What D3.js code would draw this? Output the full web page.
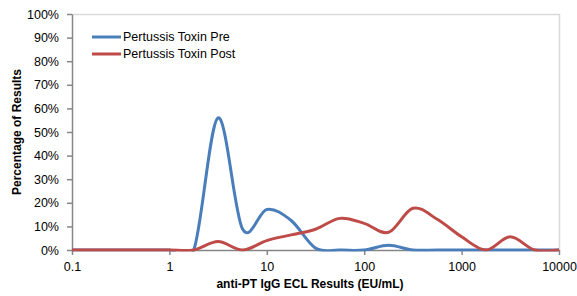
<!DOCTYPE html>
<html>
<head>
<meta charset="utf-8">
<script src="https://cdn.jsdelivr.net/npm/d3@7"></script>
<style>
  body { margin: 0; background: #fff; }
  svg text { font-family: "Liberation Sans", Arial, sans-serif; fill: #000; }
</style>
</head>
<body>
<div id="chart"></div>
<script>
// quarter-decade bins, 0.1 .. 10000
var binValues = [0.1, 0.178, 0.316, 0.562, 1, 1.78, 3.16, 5.62, 10, 17.8, 31.6, 56.2,
                 100, 178, 316, 562, 1000, 1780, 3160, 5620, 10000];
var preValues = [0, 0, 0, 0, 0, 0, 56, 9, 17.2, 12.5, 0.8, 0, 0, 2, 0, 0, 0, 0, 0, 0, 0];
var postValues = [0, 0, 0, 0, 0, 0, 3.6, 0, 4, 6.4, 8.8, 13.4, 11.3, 7.5, 17.7, 13, 5.6, 0, 5.6, 0, 0];
var seriesNames = ["Pertussis Toxin Pre", "Pertussis Toxin Post"];
var seriesColors = ["#4a7ebb", "#be4b48"];
var xTicks = [0.1, 1, 10, 100, 1000, 10000];
var yTicks = [0, 10, 20, 30, 40, 50, 60, 70, 80, 90, 100];

var width = 577,
    height = 296,
    margin = {top: 14, right: 18, bottom: 46, left: 72};
var innerW = width - margin.left - margin.right,
    innerH = height - margin.top - margin.bottom;

var svg = d3.select("#chart")
    .append("svg")
    .attr("width", width)
    .attr("height", height);

var g = svg.append("g")
    .attr("transform", "translate(" + margin.left + "," + margin.top + ")");

var x = d3.scaleLog().domain([0.1, 10000]).range([0, innerW]);
var y = d3.scaleLinear().domain([0, 100]).range([innerH, 0]);

// plot area frame (top and right light)
g.append("path")
    .attr("d", "M0,0.5H" + (innerW + 0.5) + "V" + innerH)
    .attr("fill", "none")
    .attr("stroke", "#d9d9d9")
    .attr("stroke-width", 1.5);

// y axis
var yAxis = g.append("g")
    .call(d3.axisLeft(y).tickValues(yTicks).tickSize(5).tickSizeOuter(0)
        .tickFormat(function(d) { return d + "%"; }));
yAxis.select(".domain").attr("stroke", "#868686").attr("stroke-width", 1.5);
yAxis.selectAll(".tick line").attr("stroke", "#868686").attr("stroke-width", 1.5);
yAxis.selectAll(".tick text")
    .attr("x", -13)
    .style("font-size", "12.5px")
    .attr("fill", "#000");

// x axis
var xAxis = g.append("g")
    .attr("transform", "translate(0," + innerH + ")")
    .call(d3.axisBottom(x).tickValues(xTicks).tickSize(5).tickSizeOuter(0)
        .tickFormat(function(d) { return String(d); }));
xAxis.select(".domain").attr("stroke", "#868686").attr("stroke-width", 1.5);
xAxis.selectAll(".tick line").attr("stroke", "#868686").attr("stroke-width", 1.5);
xAxis.selectAll(".tick text")
    .attr("y", 12)
    .style("font-size", "12.5px")
    .attr("fill", "#000");

// axis titles
svg.append("text")
    .attr("transform", "translate(21," + (margin.top + innerH / 2) + ") rotate(-90)")
    .attr("text-anchor", "middle")
    .style("font-size", "12px")
    .style("font-weight", "bold")
    .text("Percentage of Results");

svg.append("text")
    .attr("x", 310)
    .attr("y", 288)
    .attr("text-anchor", "middle")
    .style("font-size", "12px")
    .style("font-weight", "bold")
    .text("anti-PT IgG ECL Results (EU/mL)");

// clip the smoothed lines to the plot area, like the spreadsheet does
g.append("clipPath").attr("id", "plotclip")
    .append("rect")
    .attr("x", 0).attr("y", -2)
    .attr("width", innerW + 2).attr("height", innerH + 3.5);

var line = d3.line()
    .x(function(d) { return x(d[0]); })
    .y(function(d) { return y(d[1]); })
    .curve(d3.curveCatmullRom.alpha(0));

var series = [preValues, postValues];
series.forEach(function(vals, i) {
    g.append("path")
        .datum(binValues.map(function(b, j) { return [b, vals[j]]; }))
        .attr("clip-path", "url(#plotclip)")
        .attr("fill", "none")
        .attr("stroke", seriesColors[i])
        .attr("stroke-width", 3)
        .attr("stroke-linejoin", "round")
        .attr("d", line);
});

// legend
var legend = svg.append("g").attr("transform", "translate(92,37)");
seriesNames.forEach(function(name, i) {
    var row = legend.append("g").attr("transform", "translate(0," + (i * 17) + ")");
    row.append("line")
        .attr("x1", 0).attr("x2", 29)
        .attr("stroke", seriesColors[i])
        .attr("stroke-width", 3);
    row.append("text")
        .attr("x", 31)
        .attr("dy", "0.35em")
        .style("font-size", "12.5px")
        .text(name);
});
</script>
</body>
</html>
